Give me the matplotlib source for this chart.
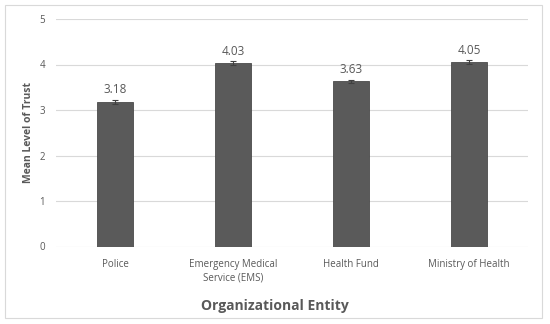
import numpy as np
import matplotlib.pyplot as plt
from matplotlib.patches import Rectangle

# data
entities = ["Police", "Emergency Medical\nService (EMS)", "Health Fund", "Ministry of Health"]
means = [3.18, 4.03, 3.63, 4.05]
errors = [0.05, 0.04, 0.04, 0.04]
yticks = [0, 1, 2, 3, 4, 5]

plt.rcParams['font.family'] = ['Open Sans', 'DejaVu Sans']
txt = '#595959'

fig = plt.figure(figsize=(5.5, 3.24), dpi=100)
ax = fig.add_axes([56/550, 1 - 246.5/324, (528 - 56)/550, (246.5 - 19)/324])

x = np.arange(len(entities))
ax.bar(x, means, width=0.31, color='#5a5a5a', edgecolor='#4a4a4a', linewidth=0.6, zorder=3)
ax.errorbar(x, means, yerr=errors, fmt='none', ecolor='#404040', elinewidth=0.8,
            capsize=2.5, capthick=0.8, zorder=4)
for xi, m in zip(x, means):
    ax.text(xi, m + 0.12, f"{m:.2f}", ha='center', va='bottom', fontsize=8.5, color=txt)

ax.set_xlim(-0.5, len(entities) - 0.5)
ax.set_ylim(0, 5)
ax.set_yticks(yticks)
ax.set_xticks(x)
ax.set_xticklabels(entities, fontsize=7, color=txt, linespacing=1.25)
ax.tick_params(axis='y', labelsize=7, colors=txt, length=0, pad=8)
ax.tick_params(axis='x', length=0, pad=9)
ax.grid(axis='y', color='#d9d9d9', linewidth=0.8, zorder=0)
for s in ax.spines.values():
    s.set_visible(False)

ax.set_ylabel("Mean Level of Trust", fontsize=7.5, fontweight='bold', color=txt)
ax.yaxis.set_label_coords(-22/472, 0.5)
fig.text(0.5, 1 - 306/324, "Organizational Entity", ha='center', va='center',
         fontsize=10, fontweight='bold', color=txt)

# chart border
fig.patches.append(Rectangle((5/550, 1 - 318/324), 537/550, 313/324, transform=fig.transFigure,
                             fill=False, edgecolor='#d9d9d9', linewidth=0.8))

fig.savefig("out.png", dpi=100)
